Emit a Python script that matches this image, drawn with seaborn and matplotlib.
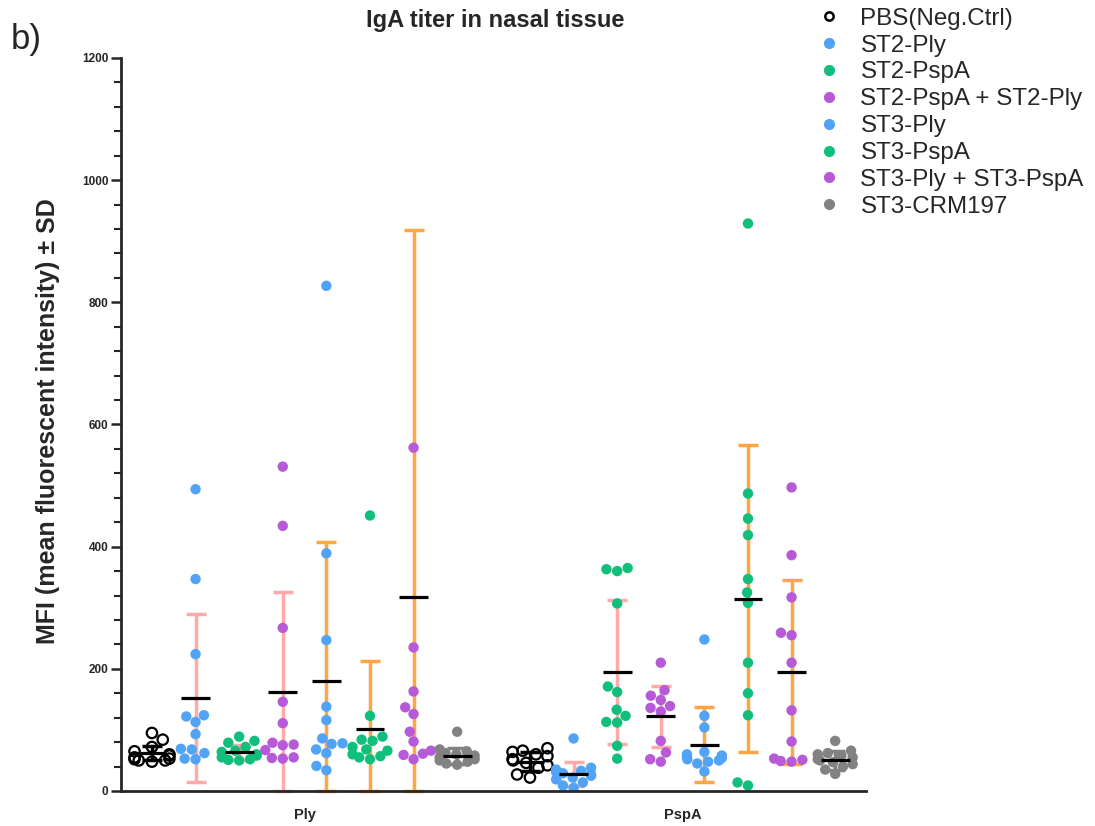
import numpy as np
import pandas as pd
import seaborn as sns
import matplotlib.pyplot as plt
from matplotlib.lines import Line2D
from matplotlib.ticker import MultipleLocator

# Groups in legend / plotting order
groups = ['PBS(Neg.Ctrl)', 'ST2-Ply', 'ST2-PspA', 'ST2-PspA + ST2-Ply',
          'ST3-Ply', 'ST3-PspA', 'ST3-Ply + ST3-PspA', 'ST3-CRM197']
antigens = ['Ply', 'PspA']

dot_colors = ['black', '#51a3f7', '#10bf7b', '#b75ad7',
              '#51a3f7', '#10bf7b', '#b75ad7', '#828282']
bar_colors = ['black', '#ffa9a9', '#ffa9a9', '#ffa9a9',
              '#ffa542', '#ffa542', '#ffa542', '#828282']

# MFI per mouse (one list per group)
ply_values = [
    [95, 84, 72, 65, 60, 58, 55, 53, 52, 50, 48, 50],
    [494, 347, 224, 124, 122, 113, 93, 69, 68, 62, 53, 52],
    [89, 82, 79, 72, 66, 64, 60, 58, 55, 52, 51, 50],
    [531, 434, 267, 146, 111, 79, 76, 75, 67, 55, 54, 53],
    [827, 389, 247, 138, 116, 86, 78, 77, 68, 62, 41, 34],
    [451, 123, 89, 84, 82, 72, 68, 66, 60, 57, 55, 52],
    [2177, 562, 235, 163, 137, 126, 97, 81, 66, 61, 59, 52],
    [97, 68, 65, 62, 60, 58, 55, 52, 50, 48, 45, 43],
]
pspa_values = [
    [70, 66, 64, 60, 57, 52, 50, 46, 42, 38, 27, 22],
    [86, 38, 35, 33, 31, 29, 27, 25, 22, 19, 14, 9, 5],
    [365, 363, 360, 307, 171, 162, 133, 123, 113, 112, 74, 53],
    [210, 165, 156, 149, 139, 136, 130, 82, 63, 52, 48],
    [248, 123, 104, 64, 60, 58, 56, 54, 52, 50, 48, 45, 32],
    [929, 487, 446, 419, 347, 325, 308, 210, 160, 124, 14, 9],
    [497, 386, 317, 259, 255, 210, 132, 81, 53, 51, 49, 48],
    [82, 66, 62, 60, 58, 55, 52, 50, 47, 44, 40, 35, 28],
]

# group mean and SD as drawn
ply_mean = [62, 152, 63, 162, 180, 102, 318, 57]
ply_sd = [12, 137, 12, 163, 227, 111, 600, 13]
pspa_mean = [48, 28, 195, 122, 76, 315, 195, 50]
pspa_sd = [15, 20, 118, 50, 61, 251, 151, 16]

gap = 8.67  # offset of second antigen block

rows = []
for a_idx, (antigen, vals) in enumerate(zip(antigens, [ply_values, pspa_values])):
    for g_idx, g in enumerate(groups):
        for v in vals[g_idx]:
            rows.append({'antigen': antigen, 'group': g,
                         'pos': g_idx + a_idx * gap, 'MFI': v})
df = pd.DataFrame(rows)

sns.set_style('ticks')
plt.rcParams['font.family'] = ['Liberation Sans', 'DejaVu Sans']

fig = plt.figure(figsize=(10.95, 8.26), dpi=100)
ax = fig.add_axes([0.1105, 0.0424, 0.6805, 0.8874])
ax.set_xlim(-0.71, 16.38)
ax.set_ylim(0, 1200)

# error bars (mean +/- SD, lower end clipped at 0)
for a_idx, (means, sds) in enumerate([(ply_mean, ply_sd), (pspa_mean, pspa_sd)]):
    for g_idx in range(len(groups)):
        x = g_idx + a_idx * gap
        m, s = means[g_idx], sds[g_idx]
        ax.errorbar(x, m, yerr=[[min(s, m)], [s]], color=bar_colors[g_idx],
                    capsize=7, elinewidth=2.5, capthick=2.5, zorder=1, clip_on=False)

# dots, all groups in one swarm call so every column gets the same width
n_before = len(ax.collections)
sns.swarmplot(data=df, x='pos', y='MFI', hue='group',
              palette=dict(zip(groups, dot_colors)), native_scale=True,
              size=7.5, linewidth=0, legend=False, ax=ax, zorder=2)
# PBS columns (black fill) are redrawn as open circles
for coll in ax.collections[n_before:]:
    fc = np.asarray(coll.get_facecolor())
    if len(fc) and np.allclose(fc[:, :3], 0):
        coll.set_facecolor('none')
        coll.set_edgecolor('black')
        coll.set_linewidth(1.6)

# mean lines
for a_idx, means in enumerate([ply_mean, pspa_mean]):
    xs = np.arange(len(groups)) + a_idx * gap
    ax.hlines(means, xs - 0.33, xs + 0.33, color='black', lw=2.3, zorder=4)

ax.set_xlim(-0.71, 16.38)
ax.set_ylim(0, 1200)

sns.despine(ax=ax)
for side in ['left', 'bottom']:
    ax.spines[side].set_linewidth(2)
ax.yaxis.set_major_locator(MultipleLocator(200))
ax.yaxis.set_minor_locator(MultipleLocator(40))
ax.tick_params(axis='y', which='major', length=7, width=1.8, labelsize=8.5, pad=2)
ax.tick_params(axis='y', which='minor', length=5, width=1.5)
for lab in ax.get_yticklabels():
    lab.set_fontweight('bold')

ax.set_xticks([3.5, 3.5 + gap])
ax.set_xticklabels(antigens, fontweight='bold', fontsize=10.5)
ax.tick_params(axis='x', length=0, pad=12)
ax.set_xlabel('')
ax.set_ylabel('MFI (mean fluorescent intensity) \u00B1 SD', fontsize=18, fontweight='bold')
ax.yaxis.set_label_coords(-0.082, 0.505)

fig.text(495 / 1095, 1 - 20 / 826, 'IgA titer in nasal tissue', ha='center', va='center',
         fontsize=17, fontweight='bold')
fig.text(11 / 1095, 1 - 40 / 826, 'b)', fontsize=25, va='center')

handles = []
for g, c in zip(groups, dot_colors):
    if g == groups[0]:
        handles.append(Line2D([], [], marker='o', ls='', markersize=6,
                              markerfacecolor='none', markeredgecolor='black', markeredgewidth=1.8))
    else:
        handles.append(Line2D([], [], marker='o', ls='', markersize=7,
                              markerfacecolor=c, markeredgecolor=c))
fig.legend(handles, groups, loc='upper left', bbox_to_anchor=(800 / 1095, 1.011),
           frameon=False, fontsize=17.4, labelspacing=0.2, handletextpad=0.8,
           handlelength=1.0, borderpad=0.2)

fig.savefig('out.png', dpi=100)
